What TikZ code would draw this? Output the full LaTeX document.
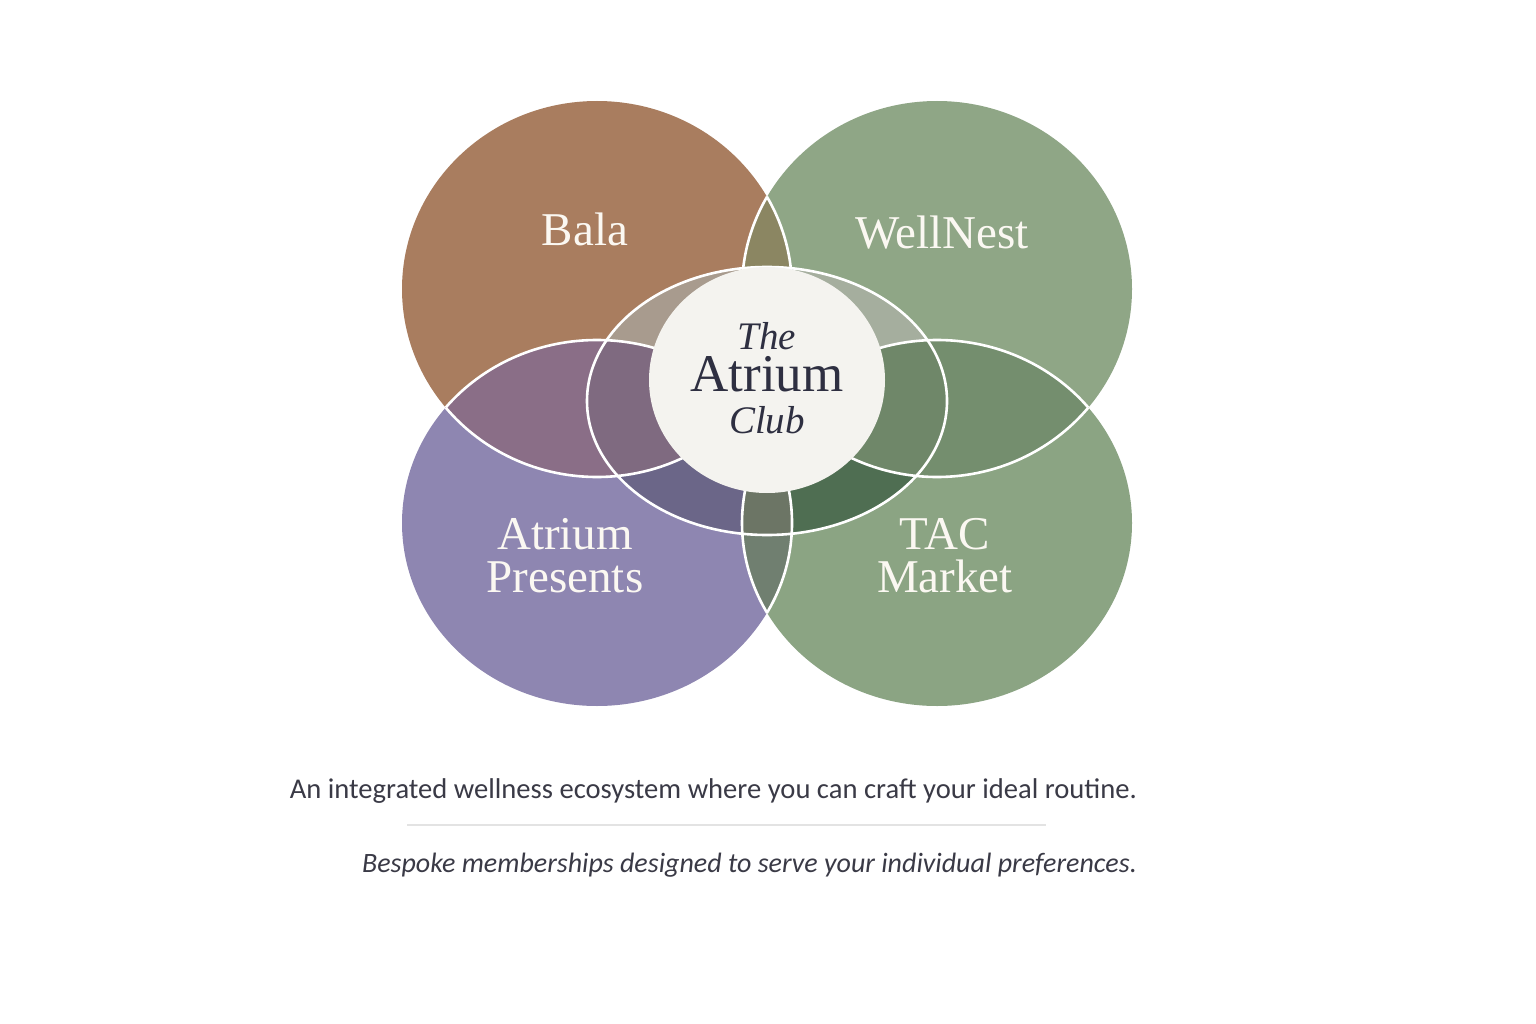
\documentclass[tikz,border=0pt]{standalone}
\usepackage{fontspec}
\setmainfont{Liberation Serif}
\newfontfamily\tagfont{Carlito}
\usetikzlibrary{positioning}

\definecolor{balaBrown}{HTML}{A97D5F}
\definecolor{nestGreen}{HTML}{8FA686}
\definecolor{presLilac}{HTML}{8E86B1}
\definecolor{markGreen}{HTML}{8BA483}
\definecolor{topLens}{HTML}{8B8662}
\definecolor{leftLens}{HTML}{8A6E87}
\definecolor{rightLens}{HTML}{748E6E}
\definecolor{lowLens}{HTML}{707F70}
\definecolor{ringBala}{HTML}{A89B8E}
\definecolor{ringNest}{HTML}{A5AE9E}
\definecolor{ringLeft}{HTML}{7F6A80}
\definecolor{ringRight}{HTML}{6F8769}
\definecolor{ringPres}{HTML}{6B6688}
\definecolor{ringMark}{HTML}{4F6E52}
\definecolor{ringLow}{HTML}{6C7565}
\definecolor{hubWhite}{HTML}{F4F3EF}
\definecolor{inkNavy}{HTML}{2E2F41}
\definecolor{inkGrey}{HTML}{3A3A46}
\definecolor{ruleGrey}{HTML}{E3E3E3}
\definecolor{labelCream}{HTML}{FBF8F2}

% the four member circles, the ring and the hub
\newcommand{\pBala}{(597,289) ellipse [x radius=195, y radius=188]}
\newcommand{\pNest}{(937,289) ellipse [x radius=195, y radius=188]}
\newcommand{\pPres}{(597,523) ellipse [x radius=195, y radius=183]}
\newcommand{\pMark}{(937,523) ellipse [x radius=195, y radius=183]}
\newcommand{\pRing}{(767,401) ellipse [x radius=180, y radius=134]}
\newcommand{\pHub}{(767,380) ellipse [x radius=118, y radius=113]}

\tikzset{
  seam/.style={draw=white, line width=2.6pt},
  member/.style={text=labelCream, font=\fontsize{47}{43}\selectfont, align=center, inner sep=0pt},
  hubtext/.style={text=inkNavy, font=\fontsize{39}{42}\selectfont, align=center, inner sep=0pt},
  tagline/.style={text=inkGrey, font=\tagfont\fontsize{28.6}{30}\selectfont, inner sep=0pt, anchor=base east}
}

\begin{document}
\begin{tikzpicture}[x=1pt,y=1pt,yscale=-1,xscale=1]
\fill[white] (0,0) rectangle (1536,1024);
\useasboundingbox (0,0) rectangle (1536,1024);
% base fills
\fill[balaBrown] \pBala;
\fill[nestGreen] \pNest;
\fill[presLilac] \pPres;
\fill[markGreen] \pMark;
% pairwise lenses
\begin{scope} \clip \pBala; \fill[topLens] \pNest; \fill[leftLens] \pPres; \end{scope}
\begin{scope} \clip \pMark; \fill[rightLens] \pNest; \fill[lowLens] \pPres; \end{scope}
% inside the ring
\begin{scope}
  \clip \pRing;
  \fill[ringBala] \pBala;
  \fill[ringNest] \pNest;
  \fill[ringPres] \pPres;
  \fill[ringMark] \pMark;
  \begin{scope} \clip \pBala; \fill[ringLeft] \pPres; \end{scope}
  \begin{scope} \clip \pMark; \fill[ringRight] \pNest; \fill[ringLow] \pPres; \end{scope}
\end{scope}
% white seams where circles overlap
\foreach \inner/\outer in {\pBala/\pNest,\pBala/\pPres,\pNest/\pBala,\pNest/\pMark,
                           \pPres/\pBala,\pPres/\pMark,\pMark/\pNest,\pMark/\pPres}{
  \begin{scope} \clip \outer; \draw[seam] \inner; \end{scope}
}
\draw[seam] \pRing;
\fill[hubWhite] \pHub;

\node[hubtext] (hubname) at (767,378) {{\itshape The}\\{\fontsize{53}{42}\selectfont Atrium}\\{\itshape Club}};
\node[member, anchor=base] (bala) at (585,246) {Bala};
\node[member, anchor=base] (wellnest) at (942,249) {WellNest};
\node[member] (presents) at (565,556) {Atrium\\Presents};
\node[member] (market) at (945,556) {TAC\\Market};

\node[tagline] (ecosystem) at (1137,798) {An integrated wellness ecosystem where you can craft your ideal routine.};
\coordinate (ruleL) at (407,825);
\coordinate (ruleR) at (1046,825);
\draw[ruleGrey, line width=1.2pt] (ruleL) -- (ruleR);
\node[tagline, font=\tagfont\itshape\fontsize{28}{30}\selectfont] (bespoke) at (1137,872) {Bespoke memberships designed to serve your individual preferences.};
\end{tikzpicture}
\end{document}
